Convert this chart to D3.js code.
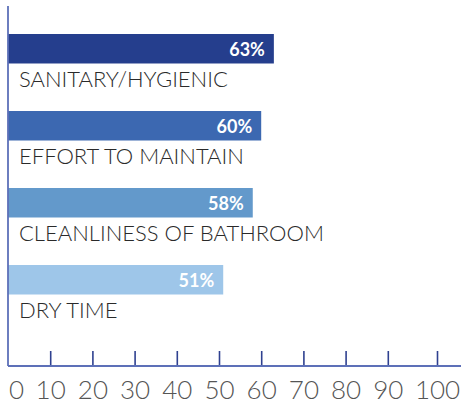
<!DOCTYPE html>
<html>
<head>
<meta charset="utf-8">
<script src="https://d3js.org/d3.v7.min.js"></script>
<style>
  body { margin: 0; background: #fff; }
  svg { display: block; }
</style>
</head>
<body>
<div class="vis"></div>
<script>
  let width = 461
  let height = 407

  let categories = ['SANITARY/HYGIENIC', 'EFFORT TO MAINTAIN', 'CLEANLINESS OF BATHROOM', 'DRY TIME']
  let values = [63, 60, 58, 51]
  let barColors = ['#253e8d', '#3c68b1', '#6399cb', '#9ec6e9']
  let tickValues = [0, 10, 20, 30, 40, 50, 60, 70, 80, 90, 100]

  let svg = d3.select('.vis').append('svg')
    .attr('width', width)
    .attr('height', height)

  let x = d3.scaleLinear()
    .domain([0, 100])
    .range([8, 430])

  let y = d3.scaleBand()
    .domain(categories)
    .range([34, 294.5])
    .paddingInner(0.617)
    .paddingOuter(0)

  let axisY = 366

  // bars
  svg.append('g')
    .selectAll('rect')
    .data(values)
    .join('rect')
      .attr('x', x(0))
      .attr('y', (d, i) => y(categories[i]))
      .attr('width', d => x(d) - x(0))
      .attr('height', y.bandwidth())
      .attr('fill', (d, i) => barColors[i])

  // value labels
  svg.append('g')
    .selectAll('text')
    .data(values)
    .join('text')
      .attr('x', d => x(d) - 9)
      .attr('y', (d, i) => y(categories[i]) + 21.5)
      .attr('text-anchor', 'end')
      .attr('fill', '#fff')
      .style('font-family', 'Lato, "Open Sans", sans-serif')
      .style('font-weight', 700)
      .style('font-size', '18px')
      .text(d => d + '%')

  // category labels
  svg.append('g')
    .selectAll('text')
    .data(categories)
    .join('text')
      .attr('x', 19)
      .attr('y', d => y(d) + 53)
      .attr('fill', '#2a2a2a')
      .style('font-family', 'Lato, "Open Sans", sans-serif')
      .style('font-weight', 300)
      .style('font-size', '22px')
      .text(d => d)

  // axis
  let xAxis = g => g
    .attr('transform', `translate(0,${axisY})`)
    .call(d3.axisBottom(x).tickValues(tickValues).tickSize(-15).tickSizeOuter(0).tickPadding(15))
    .call(g => g.select('.domain').remove())
    .call(g => g.selectAll('.tick line')
      .attr('stroke', '#2f4190')
      .attr('stroke-width', 1.6)
      .attr('opacity', d => d === 0 ? 0 : 1))
    .call(g => g.selectAll('.tick text')
      .attr('fill', '#555')
      .attr('dy', '0.71em')
      .attr('dx', d => d === 0 ? 8 : d === 100 ? 7 : 0)
      .style('font-family', 'Lato, "Open Sans", sans-serif')
      .style('font-weight', 300)
      .style('font-size', '26px'))
    .call(g => g.selectAll('.tick')
      .filter(d => d === 100)
      .select('line')
      .attr('x1', 7).attr('x2', 7))

  svg.append('g').call(xAxis)

  svg.append('line')
    .attr('x1', x(0)).attr('x2', width)
    .attr('y1', axisY).attr('y2', axisY)
    .attr('stroke', '#5d70b8')
    .attr('stroke-width', 1.8)

  svg.append('line')
    .attr('x1', x(0)).attr('x2', x(0))
    .attr('y1', 6).attr('y2', axisY)
    .attr('stroke', '#5d70b8')
    .attr('stroke-width', 1.8)
</script>
</body>
</html>
